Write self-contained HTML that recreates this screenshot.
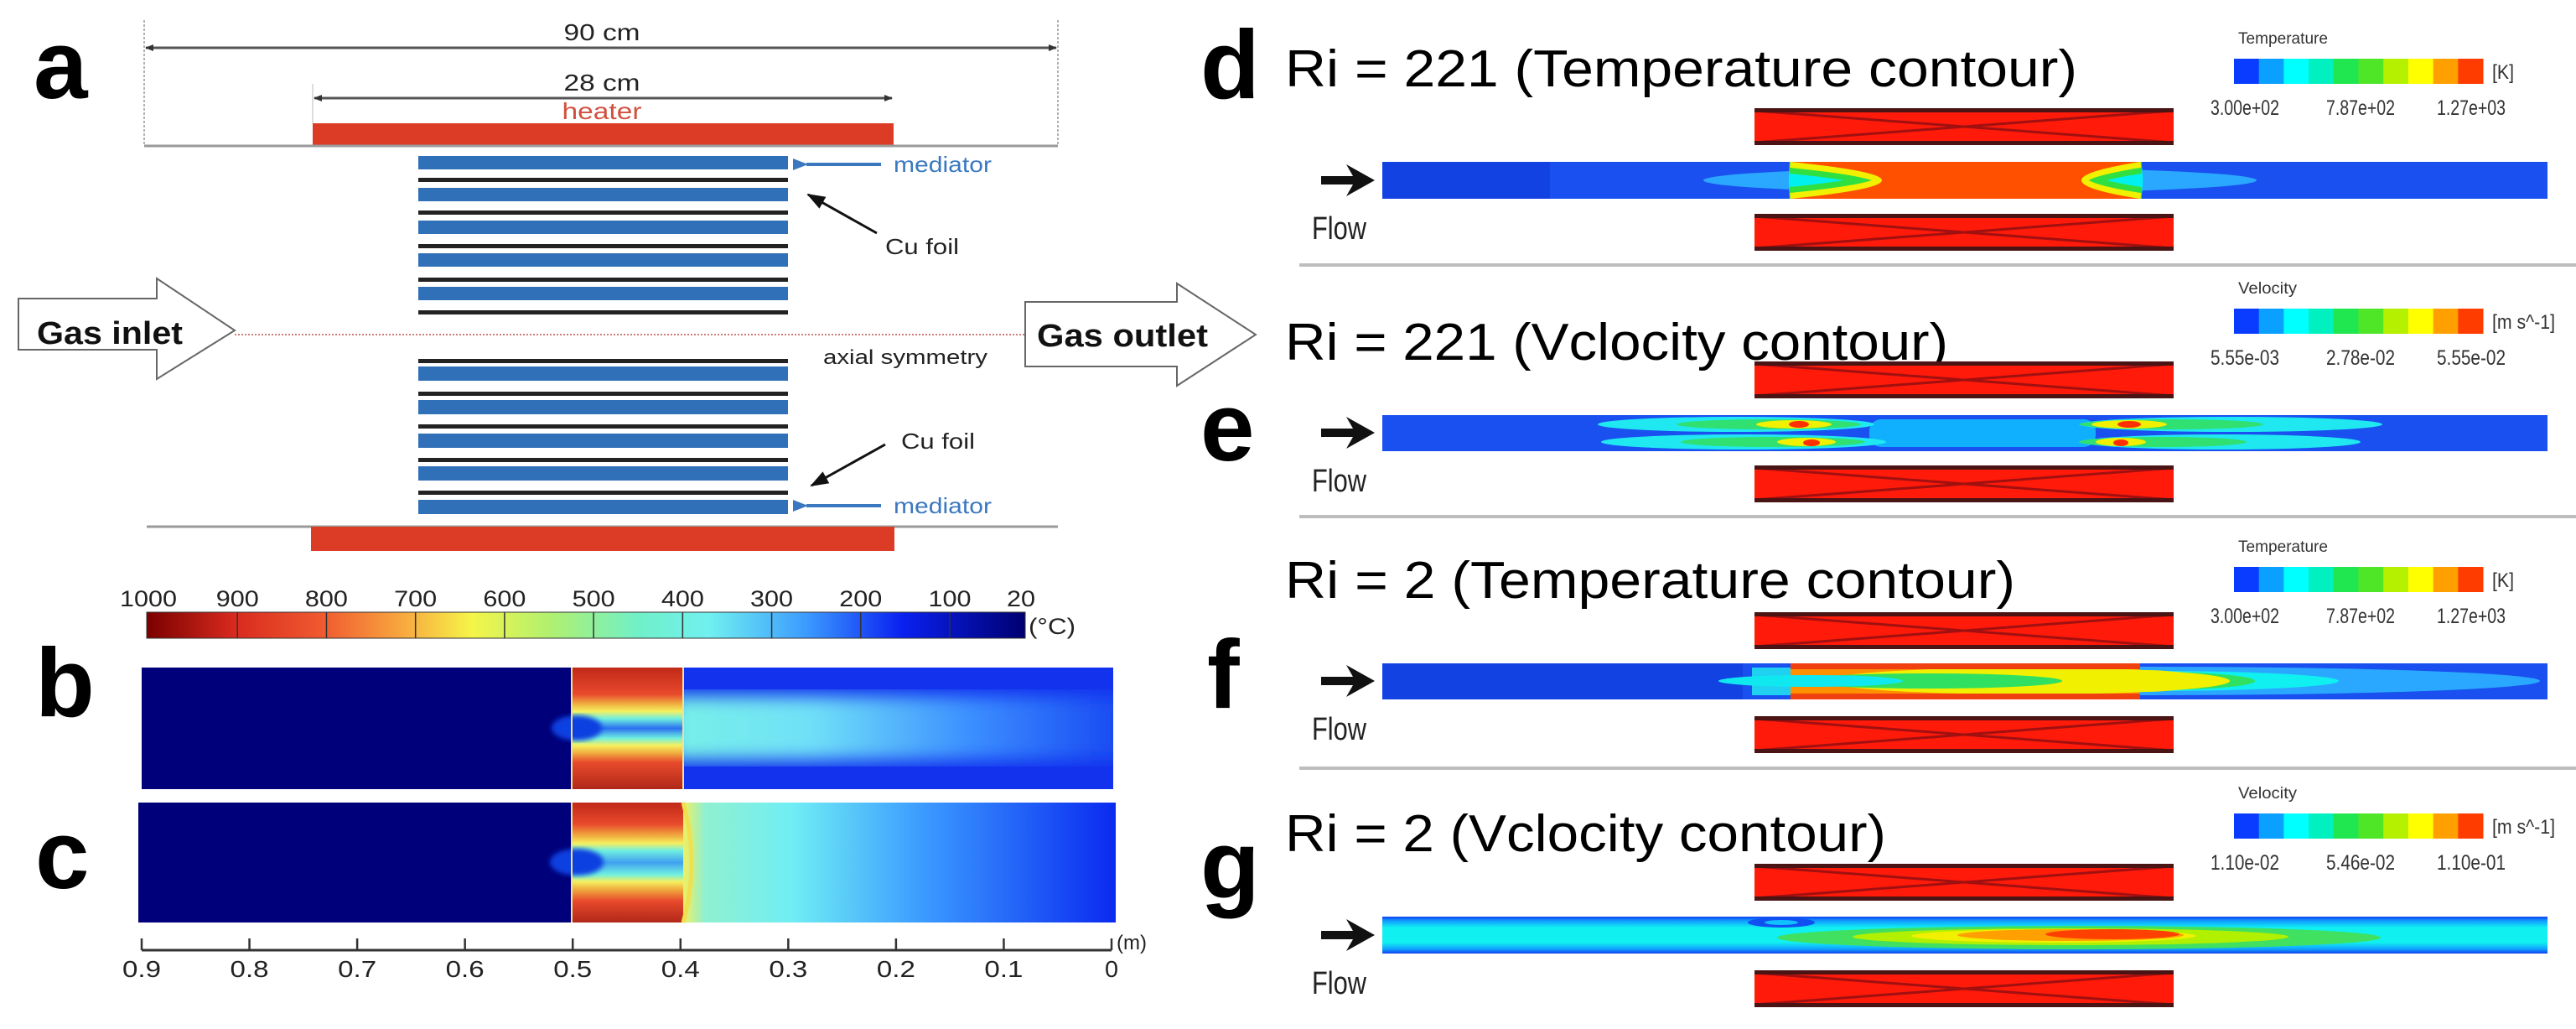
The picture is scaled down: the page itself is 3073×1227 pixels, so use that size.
<!DOCTYPE html>
<html><head><meta charset="utf-8"><style>
html,body{margin:0;padding:0;background:#fff}
svg{display:block}
text{font-family:"Liberation Sans",Arial,sans-serif}
</style></head><body>
<svg id="fig" width="3073" height="1227" viewBox="0 0 3073 1227" xmlns="http://www.w3.org/2000/svg">
<defs>
  <linearGradient id="jet" x1="0" x2="1" y1="0" y2="0">
    <stop offset="0" stop-color="#7a0000"/><stop offset="0.1" stop-color="#d82a1e"/>
    <stop offset="0.2" stop-color="#f05a30"/><stop offset="0.3" stop-color="#f8b040"/>
    <stop offset="0.37" stop-color="#f5f548"/><stop offset="0.46" stop-color="#b0f070"/>
    <stop offset="0.56" stop-color="#70f0c8"/><stop offset="0.64" stop-color="#70f0f0"/>
    <stop offset="0.75" stop-color="#3c9cff"/><stop offset="0.86" stop-color="#0a20f0"/>
    <stop offset="1" stop-color="#000070"/>
  </linearGradient>
  <linearGradient id="hotB" x1="0" x2="0" y1="0" y2="1">
    <stop offset="0" stop-color="#c02818"/><stop offset="0.22" stop-color="#e84a2c"/>
    <stop offset="0.3" stop-color="#f0b040"/><stop offset="0.36" stop-color="#f5f060"/>
    <stop offset="0.42" stop-color="#70f0e0"/><stop offset="0.5" stop-color="#2a70f0"/>
    <stop offset="0.58" stop-color="#70f0e0"/><stop offset="0.64" stop-color="#f5f060"/>
    <stop offset="0.7" stop-color="#f0b040"/><stop offset="0.78" stop-color="#e84a2c"/>
    <stop offset="1" stop-color="#b02818"/>
  </linearGradient>
  <linearGradient id="hotC" x1="0" x2="0" y1="0" y2="1">
    <stop offset="0" stop-color="#c02818"/><stop offset="0.18" stop-color="#e84a2c"/>
    <stop offset="0.28" stop-color="#f0b040"/><stop offset="0.34" stop-color="#f5f060"/>
    <stop offset="0.4" stop-color="#70f0e0"/><stop offset="0.5" stop-color="#40a0f0"/>
    <stop offset="0.6" stop-color="#70f0e0"/><stop offset="0.66" stop-color="#f5f060"/>
    <stop offset="0.72" stop-color="#f0b040"/><stop offset="0.82" stop-color="#e84a2c"/>
    <stop offset="1" stop-color="#b02818"/>
  </linearGradient>
  <linearGradient id="plumeB" x1="0" x2="1" y1="0" y2="0">
    <stop offset="0" stop-color="#78f0e8"/><stop offset="0.3" stop-color="#70e0f8"/>
    <stop offset="0.65" stop-color="#3a8cff"/><stop offset="1" stop-color="#1440f0"/>
  </linearGradient>
  <linearGradient id="plumeC" x1="0" x2="1" y1="0" y2="0">
    <stop offset="0" stop-color="#f0f060"/><stop offset="0.05" stop-color="#90f0d0"/>
    <stop offset="0.25" stop-color="#70eef4"/><stop offset="0.55" stop-color="#3c9cff"/>
    <stop offset="1" stop-color="#0a2af0"/>
  </linearGradient>
  <linearGradient id="gpipe" x1="0" x2="0" y1="0" y2="1">
    <stop offset="0" stop-color="#1040f0"/><stop offset="0.12" stop-color="#10a0ff"/>
    <stop offset="0.3" stop-color="#10f0f0"/><stop offset="0.7" stop-color="#10f0f0"/>
    <stop offset="0.88" stop-color="#10a0ff"/><stop offset="1" stop-color="#1040f0"/>
  </linearGradient>
  <filter id="blur8"><feGaussianBlur stdDeviation="10"/></filter>
  <filter id="blur3"><feGaussianBlur stdDeviation="3"/></filter>
  <clipPath id="clipD"><rect x="1649" y="193" width="1390" height="44"/></clipPath>
  <clipPath id="clipE"><rect x="1649" y="495" width="1390" height="43"/></clipPath>
  <clipPath id="clipF"><rect x="1649" y="791" width="1390" height="43"/></clipPath>
  <clipPath id="clipG"><rect x="1649" y="1093" width="1390" height="44"/></clipPath>
  <clipPath id="clipBR"><rect x="815" y="796" width="513" height="145"/></clipPath>
  <clipPath id="clipCR"><rect x="815" y="957" width="516" height="143"/></clipPath>
  <marker id="ah" markerWidth="10" markerHeight="10" refX="9" refY="5" orient="auto-start-reverse" markerUnits="userSpaceOnUse"><path d="M0,1 L10,5 L0,9 Z" fill="#333"/></marker>
  <marker id="ahb" markerWidth="22" markerHeight="16" refX="20" refY="8" orient="auto" markerUnits="userSpaceOnUse"><path d="M0,0 L22,8 L0,16 Z" fill="#111"/></marker>
  <marker id="ahblue" markerWidth="18" markerHeight="14" refX="2" refY="7" orient="auto" markerUnits="userSpaceOnUse"><path d="M18,0 L0,7 L18,14 Z" fill="#3a78c0"/></marker>
  <g id="heaterR">
    <rect x="0" y="0" width="500" height="44" fill="#ff1a0a"/>
    <path d="M0,3 L500,41 M0,41 L500,3" stroke="#a01010" stroke-width="3" fill="none"/>
    <rect x="0" y="0" width="500" height="5" fill="#4a1414"/>
    <rect x="0" y="39" width="500" height="5" fill="#4a1414"/>
  </g>
</defs>

<g>
  <text x="40" y="117" font-size="116" font-weight="bold">a</text>
  <line x1="172" y1="24" x2="172" y2="174" stroke="#999" stroke-width="1.5" stroke-dasharray="3,2"/>
  <line x1="1262" y1="24" x2="1262" y2="174" stroke="#999" stroke-width="1.5" stroke-dasharray="3,2"/>
  <line x1="174" y1="57" x2="1260" y2="57" stroke="#555" stroke-width="3" marker-start="url(#ah)" marker-end="url(#ah)"/>
  <text x="718" y="48" font-size="28" text-anchor="middle" textLength="91" lengthAdjust="spacingAndGlyphs" fill="#222">90 cm</text>
  <line x1="375" y1="117" x2="1064" y2="117" stroke="#555" stroke-width="3" marker-start="url(#ah)" marker-end="url(#ah)"/>
  <line x1="373" y1="100" x2="373" y2="147" stroke="#bbb" stroke-width="1"/>
  <text x="718" y="108" font-size="28" text-anchor="middle" textLength="91" lengthAdjust="spacingAndGlyphs" fill="#222">28 cm</text>
  <text x="718" y="142" font-size="28" text-anchor="middle" textLength="95" lengthAdjust="spacingAndGlyphs" fill="#d2503e">heater</text>
  <rect x="373" y="147" width="693" height="27" fill="#dc3b26"/>
  <line x1="172" y1="174" x2="1262" y2="174" stroke="#9a9a9a" stroke-width="3"/>
  <g id="plates"></g>
  <line x1="280" y1="399" x2="1223" y2="399" stroke="#c05050" stroke-width="1.5" stroke-dasharray="2,2"/>
  <text x="982" y="434" font-size="24" textLength="196" lengthAdjust="spacingAndGlyphs" fill="#222">axial symmetry</text>
  <line x1="1051" y1="196" x2="962" y2="196" stroke="#3a78c0" stroke-width="4" marker-end="url(#ahblue)"/>
  <text x="1066" y="205" font-size="26" textLength="117" lengthAdjust="spacingAndGlyphs" fill="#3a78c0">mediator</text>
  <line x1="1051" y1="603" x2="962" y2="603" stroke="#3a78c0" stroke-width="4" marker-end="url(#ahblue)"/>
  <text x="1066" y="612" font-size="26" textLength="117" lengthAdjust="spacingAndGlyphs" fill="#3a78c0">mediator</text>
  <line x1="1046" y1="278" x2="964" y2="232" stroke="#111" stroke-width="3" marker-end="url(#ahb)"/>
  <text x="1056" y="303" font-size="26" textLength="88" lengthAdjust="spacingAndGlyphs" fill="#222">Cu foil</text>
  <line x1="1056" y1="530" x2="968" y2="579" stroke="#111" stroke-width="3" marker-end="url(#ahb)"/>
  <text x="1075" y="535" font-size="26" textLength="88" lengthAdjust="spacingAndGlyphs" fill="#222">Cu foil</text>
  <path d="M22,356 L187,356 L187,332 L280,394 L187,452 L187,417 L22,417 Z" fill="#fff" stroke="#666" stroke-width="2"/>
  <text x="44" y="410" font-size="38" font-weight="bold" textLength="174" lengthAdjust="spacingAndGlyphs" fill="#111">Gas inlet</text>
  <path d="M1223,360 L1404,360 L1404,338 L1498,399 L1404,460 L1404,437 L1223,437 Z" fill="#fff" stroke="#666" stroke-width="2"/>
  <text x="1237" y="413" font-size="38" font-weight="bold" textLength="204" lengthAdjust="spacingAndGlyphs" fill="#111">Gas outlet</text>
  <line x1="175" y1="628" x2="1262" y2="628" stroke="#9a9a9a" stroke-width="3"/>
  <rect x="371" y="628" width="696" height="29" fill="#dc3b26"/>
</g>

<g>
  <rect x="175" y="730" width="1048" height="31" fill="url(#jet)" stroke="#333" stroke-width="1"/>
  <g id="cbTicks"></g>
  <text x="1227" y="756" font-size="27" textLength="56" lengthAdjust="spacingAndGlyphs" fill="#222">(°C)</text>
</g>

<g>
  <text x="42" y="854" font-size="116" font-weight="bold">b</text>
  <rect x="169" y="796" width="513" height="145" fill="#00007a"/>
  <rect x="682" y="796" width="133" height="145" fill="url(#hotB)"/>
  <ellipse cx="688" cy="868" rx="30" ry="15" fill="#1040e0" filter="url(#blur3)"/>
  <rect x="815" y="796" width="513" height="145" fill="#1232ee"/>
  <g clip-path="url(#clipBR)">
    <rect x="800" y="830" width="560" height="76" fill="url(#plumeB)" filter="url(#blur8)"/>
  </g>
  <line x1="682" y1="796" x2="682" y2="941" stroke="#f0e0a0" stroke-width="2"/>
  <line x1="815" y1="796" x2="815" y2="941" stroke="#f0e0a0" stroke-width="2"/>
</g>

<g>
  <text x="42" y="1059" font-size="116" font-weight="bold">c</text>
  <rect x="165" y="957" width="517" height="143" fill="#00007a"/>
  <rect x="682" y="957" width="133" height="143" fill="url(#hotC)"/>
  <ellipse cx="688" cy="1028" rx="32" ry="16" fill="#1040e0" filter="url(#blur3)"/>
  <rect x="815" y="957" width="516" height="143" fill="url(#plumeC)"/>
  <path d="M815,957 Q835,1028 815,1100" stroke="#f0e050" stroke-width="5" fill="none"/>
  <line x1="682" y1="957" x2="682" y2="1100" stroke="#f0e0a0" stroke-width="2"/>
</g>

<g>
  <line x1="169" y1="1133" x2="1326" y2="1133" stroke="#333" stroke-width="3"/>
  <g id="axTicks"></g>
  <text x="1332" y="1132" font-size="24" fill="#222">(m)</text>
</g>

<g>
  <text x="1432" y="117" font-size="116" font-weight="bold">d</text>
  <text x="1432" y="549" font-size="116" font-weight="bold">e</text>
  <text x="1440" y="844" font-size="116" font-weight="bold">f</text>
  <text x="1432" y="1071" font-size="116" font-weight="bold">g</text>
</g>

<text x="1533" y="103" font-size="62" textLength="945" lengthAdjust="spacingAndGlyphs">Ri = 221 (Temperature contour)</text>
<text x="1533" y="429" font-size="62" textLength="791" lengthAdjust="spacingAndGlyphs">Ri = 221 (Vclocity contour)</text>
<text x="1533" y="713" font-size="62" textLength="871" lengthAdjust="spacingAndGlyphs">Ri = 2 (Temperature contour)</text>
<text x="1533" y="1015" font-size="62" textLength="717" lengthAdjust="spacingAndGlyphs">Ri = 2 (Vclocity contour)</text>

<g id="legends"></g>
<g id="flows"></g>

<use href="#heaterR" x="2093" y="129"/>
<use href="#heaterR" x="2093" y="255"/>
<use href="#heaterR" x="2093" y="431"/>
<use href="#heaterR" x="2093" y="555"/>
<use href="#heaterR" x="2093" y="730"/>
<use href="#heaterR" x="2093" y="854"/>
<use href="#heaterR" x="2093" y="1030"/>
<use href="#heaterR" x="2093" y="1157"/>

<rect x="1550" y="314" width="1523" height="4" fill="#bdbdbd"/>
<rect x="1550" y="614" width="1523" height="4" fill="#bdbdbd"/>
<rect x="1550" y="914" width="1523" height="4" fill="#bdbdbd"/>

<g clip-path="url(#clipD)">
  <rect x="1649" y="193" width="1390" height="44" fill="#1a50f0"/>
  <rect x="1649" y="193" width="200" height="44" fill="#1242e2"/>
  <ellipse cx="2362" cy="215" rx="330" ry="15" fill="#2aa8ff"/>
  <path d="M2136,193 L2553,193 Q2413,215 2553,237 L2136,237 Q2354,215 2136,193 Z" fill="none" stroke="#00f0f0" stroke-width="44"/>
  <path d="M2136,193 L2553,193 Q2413,215 2553,237 L2136,237 Q2354,215 2136,193 Z" fill="none" stroke="#30e040" stroke-width="28"/>
  <path d="M2136,193 L2553,193 Q2413,215 2553,237 L2136,237 Q2354,215 2136,193 Z" fill="none" stroke="#f0f000" stroke-width="14"/>
  <path d="M2136,193 L2553,193 Q2413,215 2553,237 L2136,237 Q2354,215 2136,193 Z" fill="#ff5000"/>
</g>

<g clip-path="url(#clipE)">
  <rect x="1649" y="495" width="1390" height="43" fill="#1a50f0"/>
  <rect x="2230" y="500" width="270" height="33" rx="14" fill="#10b0ff"/>
  <ellipse cx="2071" cy="506" rx="165" ry="9" fill="#20e8f0"/>
  <ellipse cx="2080" cy="527" rx="170" ry="9" fill="#20e8f0"/>
  <ellipse cx="2110" cy="506" rx="110" ry="6" fill="#30e070"/>
  <ellipse cx="2115" cy="527" rx="110" ry="6" fill="#30e070"/>
  <ellipse cx="2140" cy="506" rx="45" ry="5" fill="#f0f000"/>
  <ellipse cx="2155" cy="527" rx="35" ry="5" fill="#f0f000"/>
  <ellipse cx="2146" cy="506" rx="12" ry="4" fill="#ff3000"/>
  <ellipse cx="2161" cy="528" rx="10" ry="4" fill="#ff3000"/>
  <ellipse cx="2662" cy="506" rx="180" ry="9" fill="#20e8f0"/>
  <ellipse cx="2650" cy="527" rx="166" ry="9" fill="#20e8f0"/>
  <ellipse cx="2590" cy="506" rx="110" ry="6" fill="#30e070"/>
  <ellipse cx="2580" cy="527" rx="100" ry="6" fill="#30e070"/>
  <ellipse cx="2540" cy="506" rx="45" ry="5" fill="#f0f000"/>
  <ellipse cx="2530" cy="527" rx="30" ry="5" fill="#f0f000"/>
  <ellipse cx="2540" cy="506" rx="14" ry="4" fill="#ff3000"/>
  <ellipse cx="2530" cy="528" rx="9" ry="4" fill="#ff3000"/>
</g>

<g clip-path="url(#clipF)">
  <rect x="1649" y="791" width="1390" height="43" fill="#1a50f0"/>
  <rect x="1649" y="791" width="430" height="43" fill="#1242e2"/>
  <ellipse cx="2560" cy="812" rx="470" ry="17" fill="#2aa8ff"/>
  <ellipse cx="2560" cy="812" rx="230" ry="12" fill="#10f0f0"/>
  <ellipse cx="2560" cy="812" rx="130" ry="11" fill="#30e060"/>
  <ellipse cx="2560" cy="812" rx="60" ry="13" fill="#f0f000"/>
  <rect x="2090" y="796" width="60" height="33" fill="#20d0f0"/>
  <rect x="2136" y="791" width="417" height="43" fill="#ff9000"/>
  <ellipse cx="2420" cy="812" rx="240" ry="16" fill="#f0f000"/>
  <ellipse cx="2300" cy="812" rx="160" ry="9" fill="#30e060"/>
  <ellipse cx="2160" cy="812" rx="110" ry="7" fill="#10e8f0"/>
  <rect x="2136" y="791" width="417" height="7" fill="#f04010"/>
  <rect x="2136" y="827" width="417" height="7" fill="#f04010"/>
</g>

<g clip-path="url(#clipG)">
  <rect x="1649" y="1093" width="1390" height="44" fill="url(#gpipe)"/>
  <ellipse cx="2480" cy="1118" rx="360" ry="14" fill="#40e060"/>
  <ellipse cx="2470" cy="1117" rx="260" ry="10" fill="#b0f000"/>
  <ellipse cx="2450" cy="1116" rx="170" ry="8" fill="#f0f000"/>
  <ellipse cx="2470" cy="1115" rx="135" ry="7" fill="#ffa000"/>
  <ellipse cx="2520" cy="1114" rx="80" ry="6" fill="#ff4000"/>
  <ellipse cx="2125" cy="1100" rx="40" ry="6" fill="#1050f0"/>
  <ellipse cx="2125" cy="1100" rx="20" ry="3" fill="#10c0ff"/>
</g>

<script>
var colorbarValues = [1000, 900, 800, 700, 600, 500, 400, 300, 200, 100, 20];
var axisValues = [0.9, 0.8, 0.7, 0.6, 0.5, 0.4, 0.3, 0.2, 0.1, 0];
var tempLegendTicks = ["3.00e+02", "7.87e+02", "1.27e+03"];
var velLegendTicksE = ["5.55e-03", "2.78e-02", "5.55e-02"];
var velLegendTicksG = ["1.10e-02", "5.46e-02", "1.10e-01"];
var legendColors = ["#0a3cff","#0aa0ff","#00ffff","#00f0c0","#20e650","#50e628","#b4f000","#ffff00","#ffa000","#ff3c00"];
var plateOffsets = [0, 1, 2, 3, 4];

var NS = "http://www.w3.org/2000/svg";
function mk(tag, attrs, parent) {
  var e = document.createElementNS(NS, tag);
  for (var k in attrs) e.setAttribute(k, attrs[k]);
  parent.appendChild(e);
  return e;
}
function cbX(v) { return 177 + (1000 - v) / (1000 - 20) * (1218 - 177); }
function axX(v) { return 169 + (0.9 - v) / 0.9 * (1326 - 169); }

var cbG = document.getElementById("cbTicks");
colorbarValues.forEach(function (v) {
  var x = cbX(v);
  if (v !== 1000 && v !== 20) {
    var t = mk("line", {x1: x, y1: 730, x2: x, y2: 761, stroke: "#333", "stroke-width": 1.5}, cbG);
    
    
  }
  var lbl = mk("text", {x: x, y: 723, "font-size": 27, "text-anchor": "middle", fill: "#222",
    textLength: (String(v).length * 17), lengthAdjust: "spacingAndGlyphs"}, cbG);
  lbl.textContent = v;
  
  
});

var axG = document.getElementById("axTicks");
axisValues.forEach(function (v) {
  var x = axX(v);
  var t = mk("line", {x1: x, y1: 1119, x2: x, y2: 1133, stroke: "#333", "stroke-width": 2.5}, axG);
  
  
  var s = String(v);
  var lbl = mk("text", {x: x, y: 1165, "font-size": 28, "text-anchor": "middle", fill: "#222",
    textLength: (s.length === 1 ? 16 : 46), lengthAdjust: "spacingAndGlyphs"}, axG);
  lbl.textContent = s;
  
  
});

var pl = document.getElementById("plates");
var topBlue = [186, 224, 263, 302, 342];
var topBlack = [212, 251, 291, 331, 370];
var botBlack = [428, 467, 506, 546, 585];
var botBlue = [437, 477, 517, 556, 596];
plateOffsets.forEach(function (i) {
  var b1 = mk("rect", {x: 499, y: topBlue[i], width: 441, height: 16, fill: "#3070b8"}, pl);
  
  
  var k1 = mk("rect", {x: 499, y: topBlack[i], width: 441, height: 5, fill: "#222"}, pl);
  
  
  var k2 = mk("rect", {x: 499, y: botBlack[i], width: 441, height: 5, fill: "#222"}, pl);
  
  
  var b2 = mk("rect", {x: 499, y: botBlue[i], width: 441, height: 17, fill: "#3070b8"}, pl);
  
  
});

var lg = document.getElementById("legends");
function legend(y0, title, unit, ticks, titleW, unitW) {
  var t = mk("text", {x: 2670, y: y0 - 18, "font-size": 19, fill: "#333", textLength: titleW, lengthAdjust: "spacingAndGlyphs"}, lg);
  t.textContent = title;
  
  
  var w = (2962 - 2665) / legendColors.length;
  legendColors.forEach(function (c, i) {
    var r = mk("rect", {x: 2665 + i * w, y: y0, width: w + 0.5, height: 30, fill: c}, lg);
    
    
  });
  var u = mk("text", {x: 2973, y: y0 + 24, "font-size": 24, fill: "#333", textLength: unitW, lengthAdjust: "spacingAndGlyphs"}, lg);
  u.textContent = unit;
  
  
  var cx = [2678, 2816, 2948];
  ticks.forEach(function (s, i) {
    var l = mk("text", {x: cx[i], y: y0 + 67, "font-size": 25, "text-anchor": "middle", fill: "#333", textLength: 82, lengthAdjust: "spacingAndGlyphs"}, lg);
    l.textContent = s;
    
    
  });
}
legend(70, "Temperature", "[K]", tempLegendTicks, 107, 26);
legend(368, "Velocity", "[m s^-1]", velLegendTicksE, 70, 75);
legend(676, "Temperature", "[K]", tempLegendTicks, 107, 26);
legend(970, "Velocity", "[m s^-1]", velLegendTicksG, 70, 75);

var fg = document.getElementById("flows");
[215, 516, 812, 1115].forEach(function (cy) {
  var a = mk("path", {d: "M1576," + (cy - 5) + " L1614," + (cy - 5) + " L1606," + (cy - 19) + " L1640," + cy +
    " L1606," + (cy + 19) + " L1614," + (cy + 5) + " L1576," + (cy + 5) + " Z", fill: "#111"}, fg);
  
  
  var t = mk("text", {x: 1565, y: cy + 70, "font-size": 38, fill: "#222", textLength: 65, lengthAdjust: "spacingAndGlyphs"}, fg);
  t.textContent = "Flow";
  
  
});
</script>
</svg>
</body></html>
